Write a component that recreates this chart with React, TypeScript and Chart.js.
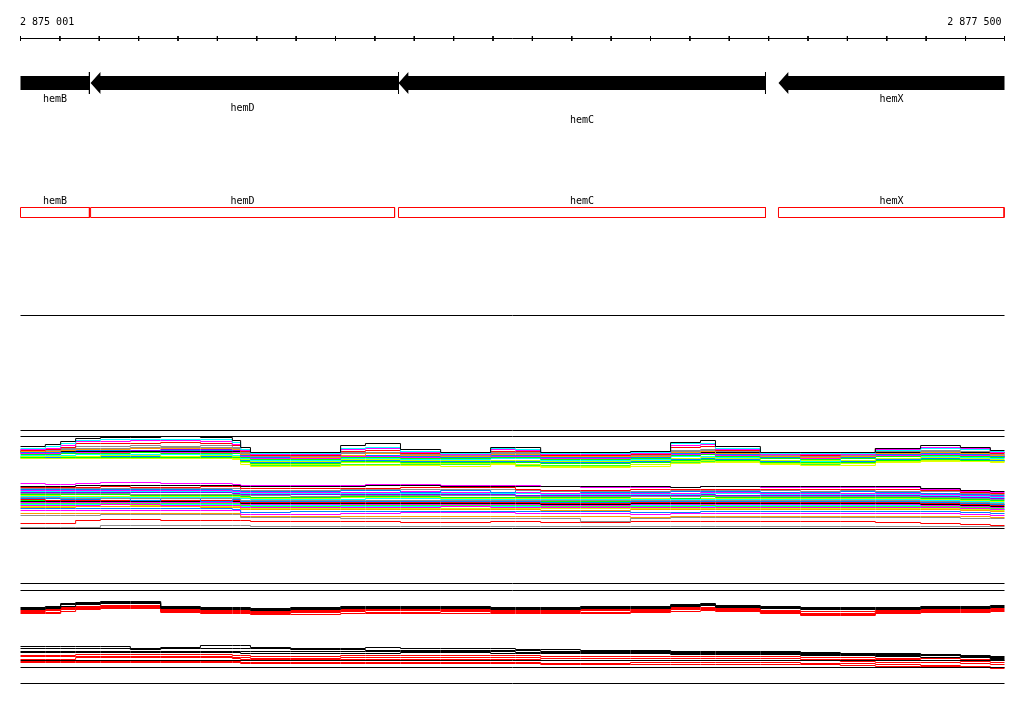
import React, { useEffect, useRef } from 'react';
import { Chart, registerables } from 'chart.js';

Chart.register(...registerables);

// ---------- view / ruler ----------
const VIEW_START = 2875001;
const VIEW_END = 2877500;
const TICK_STEP = 100;
const rulerLabels = ['2 875 001', '2 877 500'];

// ---------- features ----------
const geneNames = ['hemB', 'hemD', 'hemC', 'hemX'];
const geneStarts = [2874850, 2875179, 2875961, 2876926];
const geneEnds = [2875176, 2875961, 2876893, 2877700];
const cdsStarts = [2874850, 2875179, 2875961, 2876926];
const cdsEnds = [2875176, 2875951, 2876893, 2877700];
const geneLabelLane = [0, 1, 2, 0];

// ---------- window boundaries of the plots (bp) ----------
const binEdges = [
  2875001, 2875064, 2875103, 2875141, 2875204, 2875280, 2875357, 2875458,
  2875539, 2875560, 2875585, 2875687, 2875814, 2875877, 2875966, 2876068,
  2876195, 2876258, 2876322, 2876423, 2876550, 2876652, 2876728, 2876766,
  2876880, 2876982, 2877083, 2877172, 2877287, 2877388, 2877464, 2877500,
];

// ---------- track 1, upper group ----------
const trackAColors = [
  '#000000', '#00ffff', '#ff00ff', '#ff0000', '#8c8c8c', '#ff9900', '#000000',
  '#0080ff', '#ff00ff', '#00ff00', '#00ffff', '#ccff00', '#8000ff', '#ff0000',
  '#8c8c8c', '#ff0090', '#0080ff', '#00ff00', '#ccff00', '#e6ff00', '#33ff33',
];
const trackAValues = [
  [446,444,441,438,437,437,436,437, 440,447,452,452,445,443,449,452, 447,447,452,452,451,442,440,446, 452,452,452,448,445,447,450,450],
  [448,446,443,440,439,439,439,439, 442,449,453,453,448,447,451,453, 448,449,453,453,452,443,443,448, 453,453,453,450,448,449,451,451],
  [449,448,445,441,441,440,440,441, 444,450,454,454,449,448,452,454, 449,450,454,454,453,445,444,449, 454,454,454,449,447,448,452,452],
  [450,449,447,443,443,443,442,443, 445,451,455,455,451,450,453,454, 451,451,455,455,454,447,446,450, 454,455,454,448,447,449,453,453],
  [450,450,449,446,446,445,446,445, 447,452,456,456,452,452,454,455, 452,452,455,455,455,450,449,451, 455,456,455,451,450,451,454,454],
  [451,451,450,449,449,448,448,448, 449,454,456,457,455,453,455,456, 454,454,456,456,456,452,451,453, 456,457,456,453,452,453,455,455],
  [451,451,451,451,451,451,451,451, 451,452,452,452,452,452,452,452, 452,452,452,452,452,452,452,452, 452,452,452,452,452,452,452,452],
  [452,452,452,450,450,451,450,450, 451,455,457,457,455,455,456,457, 455,455,457,457,457,453,452,454, 457,457,457,454,453,454,456,456],
  [453,453,452,452,451,451,452,451, 452,456,458,458,456,456,457,457, 456,456,458,458,457,454,453,455, 457,458,457,455,454,455,456,456],
  [454,454,453,453,453,452,453,453, 453,457,459,459,457,457,458,458, 457,457,459,459,458,455,454,456, 458,459,458,456,455,456,457,457],
  [455,455,455,454,454,454,454,454, 455,458,460,460,458,458,459,459, 458,458,460,460,459,456,456,457, 458,461,458,456,456,457,458,458],
  [456,456,456,456,455,455,456,455, 456,459,461,461,459,459,460,460, 460,460,461,461,460,458,457,458, 460,460,460,458,457,458,459,459],
  [451,452,451,451,450,450,449,449, 450,455,457,457,455,455,456,456, 455,455,457,457,457,453,452,454, 456,457,456,454,453,454,455,455],
  [452,453,450,453,451,451,451,451, 452,456,456,457,456,456,456,457, 456,456,456,457,456,454,453,455, 456,456,456,455,454,455,456,456],
  [449,449,448,448,448,447,447,447, 448,453,455,455,453,453,454,455, 453,453,455,455,455,451,450,452, 455,455,455,452,451,452,454,454],
  [453,454,453,452,452,452,452,452, 453,457,457,458,457,457,457,458, 457,457,457,458,457,455,454,456, 457,457,457,456,455,456,457,457],
  [456,457,456,456,456,456,456,456, 456,460,462,462,460,460,461,461, 461,461,462,462,461,459,458,459, 461,461,461,459,458,459,460,460],
  [457,457,457,457,457,457,457,457, 457,461,463,463,461,461,462,462, 462,462,463,463,462,460,459,460, 462,462,462,460,459,460,460,460],
  [458,458,458,458,458,458,458,458, 458,462,464,464,462,462,463,463, 463,464,466,466,464,461,460,461, 463,463,463,461,460,460,461,461],
  [458,458,458,458,458,458,458,458, 459,464,466,466,465,465,465,466, 464,466,467,467,466,463,462,462, 464,465,465,462,461,461,462,462],
  [457,458,457,457,457,457,456,456, 457,462,465,465,464,464,464,464, 463,465,465,465,464,462,461,461, 463,464,463,461,460,460,461,461],
];

// ---------- track 1, lower group ----------
const trackBColors = [
  '#000000', '#ff00ff', '#ff0000', '#8c8c8c', '#0080ff', '#ff00ff', '#00ffff',
  '#8000ff', '#8c8c8c', '#00ff00', '#ccff00', '#00ffff', '#8c8c8c', '#0080ff',
  '#ff0000', '#000000', '#33ff33', '#ff00ff', '#ff9900', '#0080ff', '#ff00ff',
  '#ff9900', '#8c8c8c', '#ff0000', '#8c8c8c', '#00ff00', '#ff00ff', '#00ffff',
  '#ccff00',
];
const trackBValues = [
  [486,486,486,485,485,485,485,485, 485,486,486,486,486,485,485,486, 486,486,486,486,486,487,486,486, 486,486,486,486,488,490,491,491],
  [483,484,484,483,482,482,483,483, 484,485,485,485,485,484,484,485, 485,485,486,487,487,487,486,486, 487,487,487,487,489,491,492,492],
  [487,487,487,487,486,487,487,486, 486,488,488,488,488,488,487,487, 487,489,490,490,489,489,489,489, 489,489,489,489,490,492,493,493],
  [488,488,488,488,488,488,488,488, 488,490,490,490,489,489,489,489, 489,490,491,491,491,490,490,490, 490,491,490,491,491,493,494,494],
  [489,489,489,489,489,489,489,489, 490,491,491,491,490,490,492,490, 492,490,491,492,492,491,491,491, 492,492,491,492,493,494,495,495],
  [490,490,490,490,490,490,490,490, 491,492,492,492,492,492,491,492, 492,492,493,493,493,493,492,492, 493,493,493,493,494,495,496,496],
  [491,491,491,491,491,491,491,491, 492,493,493,493,493,493,493,493, 493,493,494,494,494,494,493,493, 494,494,494,494,495,496,497,497],
  [492,492,492,492,492,492,492,492, 493,494,494,494,494,494,494,494, 494,495,495,495,495,495,494,495, 495,495,495,495,496,497,498,498],
  [493,493,493,493,493,494,494,494, 494,495,495,496,495,495,495,495, 495,496,496,496,496,496,495,496, 496,496,496,496,497,498,499,499],
  [494,494,494,494,494,495,495,495, 495,496,497,497,496,496,496,497, 497,497,497,497,495,498,496,497, 497,497,497,497,498,499,500,500],
  [495,495,496,496,496,496,496,496, 496,497,498,498,497,497,497,498, 498,498,498,498,498,498,498,498, 498,498,498,498,499,500,501,501],
  [496,496,497,497,497,497,497,497, 497,498,499,499,499,498,498,499, 499,499,499,499,499,499,499,499, 499,499,499,499,500,501,502,502],
  [497,497,498,498,498,498,498,498, 498,500,500,500,500,500,500,500, 500,500,500,500,500,500,500,500, 500,500,500,500,501,502,503,503],
  [498,498,499,499,497,500,498,501, 499,501,501,501,501,501,501,501, 501,501,502,502,501,501,501,501, 501,501,501,501,502,503,504,504],
  [499,500,500,500,500,500,500,500, 500,502,502,502,502,502,502,502, 502,502,503,503,502,502,502,502, 502,502,502,502,503,504,505,505],
  [501,501,501,501,501,501,501,501, 501,503,503,503,503,503,503,503, 503,503,504,504,503,503,503,503, 503,503,503,503,504,505,506,506],
  [503,503,503,503,503,503,503,503, 503,505,506,506,505,505,505,505, 505,505,506,506,506,506,505,506, 506,506,506,506,506,507,508,508],
  [505,505,505,505,504,504,505,505, 505,507,507,507,507,507,507,506, 507,507,507,507,507,507,507,507, 507,507,507,507,507,508,509,509],
  [507,507,507,506,506,506,506,507, 507,509,509,509,509,509,509,509, 509,509,510,510,509,509,509,509, 509,509,509,509,509,510,511,511],
  [508,508,508,508,508,508,508,508, 509,512,512,511,511,511,511,511, 511,511,511,511,512,512,511,511, 511,511,511,511,511,512,513,513],
  [510,510,510,510,510,510,510,510, 510,514,514,514,513,513,512,512, 512,513,513,513,514,513,513,513, 513,513,513,513,513,514,515,515],
  [513,513,513,513,513,513,513,513, 513,516,516,516,516,516,516,516, 516,516,516,516,517,516,516,516, 516,516,516,516,516,516,517,517],
  [515,515,515,515,514,514,514,514, 514,517,517,517,518,518,518,518, 518,518,518,521,518,517,517,517, 517,517,517,517,517,518,518,518],
  [523,523,523,520,519,519,520,520, 520,520,521,521,521,521,522,522, 521,521,522,522,521,521,521,521, 521,521,521,522,523,524,525,525],
  [527,527,527,527,525,525,525,525, 525,525,526,526,526,526,526,526, 526,526,526,526,526,526,526,526, 526,526,526,526,526,526,526,526],
  [500,500,500,500,500,500,500,500, 500,501,502,502,501,501,500,501, 501,501,501,501,501,501,501,501, 501,501,502,502,502,503,504,504],
  [502,502,502,502,502,502,502,502, 502,504,504,504,504,504,504,504, 504,504,505,505,504,504,504,504, 504,504,504,504,505,506,507,507],
  [504,504,504,504,504,504,504,504, 504,506,505,505,506,506,506,506, 506,506,506,506,505,505,506,505, 505,505,505,505,507,508,509,509],
  [506,506,506,506,506,505,506,506, 506,508,508,508,508,508,508,508, 508,508,508,508,508,508,508,508, 508,508,508,508,508,509,510,510],
];

// ---------- track 2, upper group ----------
const trackCColors = ['#000000', '#000000', '#000000', '#ff0000', '#ff0000', '#ff0000', '#ff0000'];
const trackCValues = [
  [607,606,603,602,601,601,606,607, 607,607,608,607,606,606,606,606, 607,607,607,606,606,604,603,605, 606,607,607,607,606,606,605,605],
  [608,607,604,603,602,602,607,608, 608,608,609,608,607,607,607,607, 608,608,608,607,607,605,604,606, 607,608,608,608,607,607,606,606],
  [609,608,606,604,603,603,608,609, 609,609,610,609,608,608,608,608, 609,609,609,608,608,606,605,607, 608,609,609,609,608,608,607,607],
  [610,609,607,606,605,605,609,610, 610,610,611,610,609,609,609,609, 610,610,610,609,609,607,607,608, 610,611,611,610,609,609,608,608],
  [611,610,608,607,606,606,610,611, 611,611,612,611,610,610,610,610, 611,611,611,610,610,608,608,609, 611,613,613,611,610,610,609,609],
  [612,612,609,608,607,607,611,612, 612,612,613,612,611,612,612,611, 612,612,612,612,611,609,609,610, 612,614,614,612,611,611,610,610],
  [613,613,611,609,608,608,612,613, 613,613,614,614,613,613,613,613, 613,613,613,613,612,611,610,611, 613,615,615,613,612,612,611,611],
];

// ---------- track 2, lower group ----------
const trackDColors = ['#000000', '#000000', '#000000', '#000000', '#ff0000', '#ff0000', '#ff0000', '#ff0000', '#ff0000'];
const trackDValues = [
  [646,646,646,646,646,649,647,645, 645,645,647,648,648,647,648,648, 648,649,649,650,650,651,651,651, 651,652,653,653,654,656,656,656],
  [648,648,648,648,648,648,648,648, 648,648,648,649,649,650,650,650, 650,650,651,651,651,652,652,652, 652,653,653,654,654,655,657,657],
  [651,651,651,651,651,651,651,651, 651,651,651,651,651,651,651,651, 651,652,652,652,652,653,653,653, 653,654,654,655,655,656,658,658],
  [652,652,652,652,652,652,652,652, 652,653,653,653,653,653,652,652, 653,653,653,653,653,654,654,654, 654,655,655,656,657,657,659,659],
  [655,655,655,654,654,654,654,654, 655,655,656,656,655,655,655,655, 655,655,656,656,656,656,656,656, 656,657,657,658,658,659,660,660],
  [656,656,656,656,656,656,656,656, 657,657,658,658,657,657,657,657, 657,657,658,658,658,658,658,658, 658,659,659,659,660,661,662,662],
  [659,659,659,657,657,657,657,657, 658,659,659,659,659,659,659,659, 659,659,660,660,660,660,660,660, 660,660,661,662,662,663,664,664],
  [661,661,661,661,661,661,661,661, 661,662,662,662,662,662,662,662, 662,662,663,663,662,662,662,662, 662,663,663,664,665,666,667,667],
  [662,662,662,662,662,662,662,662, 662,663,663,663,663,663,663,663, 663,663,664,664,664,664,664,664, 664,664,665,666,666,667,668,668],
];

// ---------- layout (pixel rows of the page) ----------
const CANVAS_W = 1024;
const CANVAS_H = 714;
const RULER_LEFT_PX = 20;
const RULER_RIGHT_PX = 1004;
const frameRows = [38, 315, 430, 436, 528, 583, 590, 660, 667, 683];
const TICK_TOP = 35.5;
const TICK_BOTTOM = 40.5;
const ARROW_MID = 82.5;
const BODY_TOP = 75.5;
const BODY_BOTTOM = 89.5;
const HEAD_TOP = 71.5;
const HEAD_BOTTOM = 93.5;
const HEAD_BP = 25;
const BOX_TOP = 207;
const BOX_BOTTOM = 217;
const RULER_LABEL_BASE = 24.5;
const LANE_BASES = [101.5, 110.5, 122.5];
const BOX_LABEL_BASE = 203.5;

const PX_PER_BP = (RULER_RIGHT_PX - RULER_LEFT_PX) / (VIEW_END - VIEW_START);
const X_MIN = VIEW_START - (RULER_LEFT_PX + 0.5) / PX_PER_BP;
const X_MAX = X_MIN + CANVAS_W / PX_PER_BP;

type P = { x: number; y: number | null };

function stepSeries(values: number[]): P[] {
  return binEdges.map((b, i) => ({ x: b, y: values[i] }));
}

function arrowShape(start: number, end: number): P[] {
  const e = Math.min(end, VIEW_END);
  if (start >= VIEW_START) {
    const h = start + HEAD_BP;
    return [
      { x: start, y: ARROW_MID },
      { x: h, y: HEAD_TOP },
      { x: h, y: BODY_TOP },
      { x: e, y: BODY_TOP },
      { x: e, y: BODY_BOTTOM },
      { x: h, y: BODY_BOTTOM },
      { x: h, y: HEAD_BOTTOM },
    ];
  }
  return [
    { x: VIEW_START, y: BODY_TOP },
    { x: e, y: BODY_TOP },
    { x: e, y: BODY_BOTTOM },
    { x: VIEW_START, y: BODY_BOTTOM },
  ];
}

function buildDatasets() {
  const ds: any[] = [];
  const lineBase = { borderWidth: 1, pointRadius: 0, fill: false, tension: 0 };

  // frame lines
  const frame: P[] = [];
  frameRows.forEach((r) => {
    frame.push({ x: VIEW_START, y: r }, { x: VIEW_END, y: r }, { x: VIEW_END, y: null });
  });
  ds.push({ ...lineBase, data: frame, borderColor: '#000000' });

  // ruler ticks
  const ticks: P[] = [];
  const tickPos: number[] = [];
  for (let bp = VIEW_START; bp < VIEW_END; bp += TICK_STEP) tickPos.push(bp);
  tickPos.push(VIEW_END);
  tickPos.forEach((bp) => {
    ticks.push({ x: bp, y: TICK_TOP }, { x: bp, y: TICK_BOTTOM }, { x: bp, y: null });
  });
  ds.push({ ...lineBase, data: ticks, borderColor: '#000000' });

  // gene arrows
  geneNames.forEach((_, i) => {
    ds.push({
      data: arrowShape(geneStarts[i], geneEnds[i]),
      borderWidth: 0,
      pointRadius: 0,
      backgroundColor: '#000000',
      borderColor: '#000000',
      fill: 'shape',
      tension: 0,
    });
  });
  const bars: P[] = [];
  geneNames.forEach((_, i) => {
    if (geneEnds[i] <= VIEW_END) {
      bars.push({ x: geneEnds[i], y: HEAD_TOP }, { x: geneEnds[i], y: HEAD_BOTTOM }, { x: geneEnds[i], y: null });
    }
  });
  ds.push({ ...lineBase, data: bars, borderColor: '#000000' });

  // feature boxes
  const boxes: P[] = [];
  geneNames.forEach((_, i) => {
    const s = Math.max(cdsStarts[i], VIEW_START);
    const e = Math.min(cdsEnds[i], VIEW_END - 1);
    boxes.push(
      { x: s, y: BOX_TOP }, { x: e, y: BOX_TOP }, { x: e, y: BOX_BOTTOM },
      { x: s, y: BOX_BOTTOM }, { x: s, y: BOX_TOP }, { x: s, y: null },
    );
  });
  ds.push({ ...lineBase, data: boxes, borderColor: '#ff0000' });

  const groups: [string[], number[][]][] = [
    [trackAColors, trackAValues],
    [trackBColors, trackBValues],
    [trackCColors, trackCValues],
    [trackDColors, trackDValues],
  ];
  groups.forEach(([colors, values]) => {
    values.forEach((v, i) => {
      ds.push({ ...lineBase, data: stepSeries(v), borderColor: colors[i], stepped: 'before' });
    });
  });
  return ds;
}

const textPlugin = {
  id: 'trackText',
  afterDraw(chart: any) {
    const { ctx } = chart;
    const x = chart.scales.x;
    const y = chart.scales.y;
    ctx.save();
    ctx.font = '10px "DejaVu Sans Mono", monospace';
    ctx.fillStyle = '#000000';
    ctx.textBaseline = 'alphabetic';
    ctx.textAlign = 'left';
    ctx.fillText(rulerLabels[0], x.getPixelForValue(VIEW_START) - 0.5, y.getPixelForValue(RULER_LABEL_BASE));
    ctx.textAlign = 'right';
    ctx.fillText(rulerLabels[1], x.getPixelForValue(VIEW_END) - 3, y.getPixelForValue(RULER_LABEL_BASE));
    ctx.textAlign = 'center';
    geneNames.forEach((name, i) => {
      const s = Math.max(cdsStarts[i], VIEW_START);
      const e = Math.min(cdsEnds[i], VIEW_END);
      const cx = (x.getPixelForValue(s) + x.getPixelForValue(e)) / 2;
      ctx.fillText(name, cx, y.getPixelForValue(LANE_BASES[geneLabelLane[i]]));
      ctx.fillText(name, cx, y.getPixelForValue(BOX_LABEL_BASE));
    });
    ctx.restore();
  },
};

export default function App() {
  const ref = useRef<HTMLCanvasElement>(null);
  useEffect(() => {
    if (!ref.current) return;
    const chart = new Chart(ref.current, {
      type: 'line',
      data: { datasets: buildDatasets() },
      options: {
        animation: false,
        responsive: false,
        maintainAspectRatio: false,
        events: [],
        layout: { padding: 0 },
        plugins: {
          legend: { display: false },
          tooltip: { enabled: false },
          title: { display: false },
        },
        scales: {
          x: { type: 'linear', min: X_MIN, max: X_MAX, display: false, bounds: 'data' },
          y: { type: 'linear', min: -0.5, max: CANVAS_H - 0.5, reverse: true, display: false, bounds: 'data' },
        },
      },
      plugins: [textPlugin],
    } as any);
    return () => chart.destroy();
  }, []);
  return (
    <div style={{ position: 'absolute', left: 0, top: 0, width: CANVAS_W, height: CANVAS_H, background: '#ffffff' }}>
      <canvas ref={ref} width={CANVAS_W} height={CANVAS_H} style={{ display: 'block' }} />
    </div>
  );
}
